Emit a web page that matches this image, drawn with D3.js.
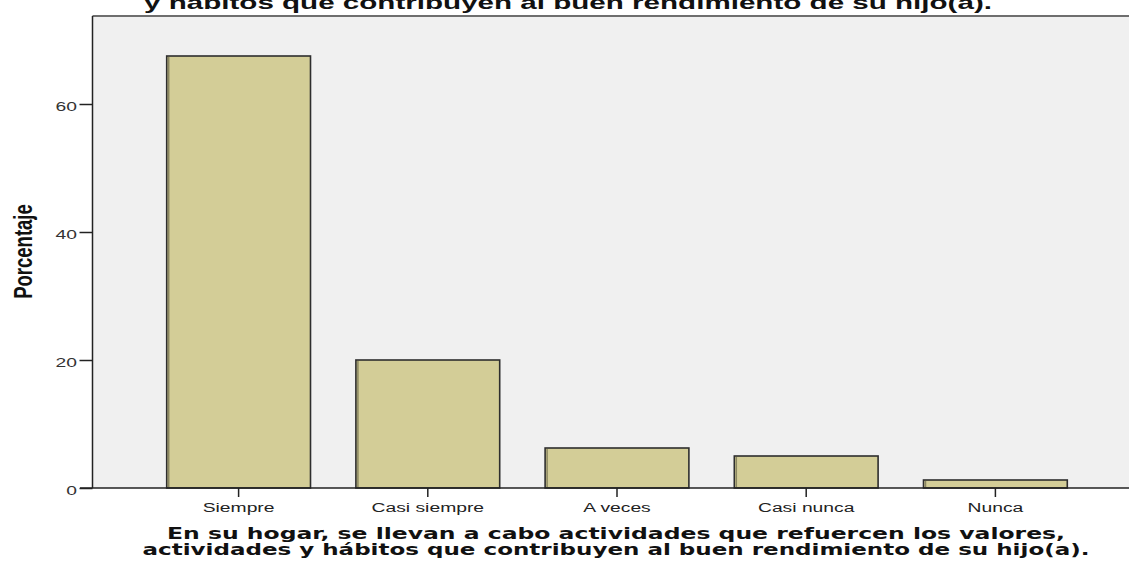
<!DOCTYPE html>
<html><head><meta charset="utf-8">
<script src="https://cdn.jsdelivr.net/npm/d3@7"></script>
<style>body{margin:0;background:#fff}svg{display:block}</style>
</head><body>
<svg id="c" width="1129" height="562"></svg>
<script>
const categories = ["Siempre","Casi siempre","A veces","Casi nunca","Nunca"];
const values = [67.5, 20.0, 6.25, 5.0, 1.25];
const yTicks = [0, 20, 40, 60];
const titleText = "y hábitos que contribuyen al buen rendimiento de su hijo(a).";
const xTitleLines = ["En su hogar, se llevan a cabo actividades que refuercen los valores,",
                     "actividades y hábitos que contribuyen al buen rendimiento de su hijo(a)."];
const yTitle = "Porcentaje";

(function(){
const svg = d3.select("#c");
const pL = 92.5, pT = 16, pB = 488, pR = 1135;
const SX = 1.43; // horizontal stretch of the original picture
const y = d3.scaleLinear().domain([0, 73.75]).range([pB, pT]);
const x = d3.scaleBand().domain(categories).range([144, 1090]).paddingInner(0.24).paddingOuter(0.12);

svg.append("rect").attr("x", pL).attr("y", pT).attr("width", pR-pL).attr("height", pB-pT).attr("fill", "#f0f0f0");
svg.append("line").attr("x1", pL).attr("x2", pR).attr("y1", pT).attr("y2", pT).attr("stroke", "#6e6e6e").attr("stroke-width", 1.8);

const bars = svg.append("g");
bars.selectAll("rect").data(values).join("rect")
  .attr("x", (d,i) => x(categories[i]))
  .attr("y", d => y(d))
  .attr("width", x.bandwidth())
  .attr("height", d => y(0) - y(d))
  .attr("fill", "#d3cd97").attr("stroke", "#2e2e2e").attr("stroke-width", 1.6);
bars.selectAll("line").data(values).join("line")
  .attr("x1", (d,i) => x(categories[i]) + 2).attr("x2", (d,i) => x(categories[i]) + 2)
  .attr("y1", d => y(d) + 1).attr("y2", y(0) - 1)
  .attr("stroke", "#8a8660").attr("stroke-width", 1.5);

const ya = svg.append("g").attr("transform", `translate(${pL},0)`)
  .call(d3.axisLeft(y).tickValues(yTicks).tickSize(13).tickPadding(3).tickFormat(d3.format("d")));
ya.select(".domain").remove();
ya.selectAll(".tick line").attr("stroke", "#222").attr("stroke-width", 1.5);
ya.selectAll(".tick text")
  .attr("x", 0).attr("dy", "0.45em")
  .attr("transform", `translate(-15.5,0) scale(${SX},1)`)
  .attr("font-family", "Liberation Sans, Arial, sans-serif").attr("font-size", 13.5).attr("fill", "#333");

svg.append("line").attr("x1", pL).attr("x2", pL).attr("y1", pT).attr("y2", pB).attr("stroke", "#222").attr("stroke-width", 1.5);

const xa = svg.append("g").attr("transform", `translate(0,${pB})`)
  .call(d3.axisBottom(x).tickSize(9).tickPadding(5));
xa.select(".domain").remove();
xa.selectAll(".tick line").attr("stroke", "#222").attr("stroke-width", 1.5);
xa.selectAll(".tick text")
  .attr("transform", `scale(${SX},1)`)
  .attr("font-family", "Liberation Sans, Arial, sans-serif").attr("font-size", 13.5).attr("fill", "#222");
svg.append("line").attr("x1", 80).attr("x2", pR).attr("y1", pB).attr("y2", pB).attr("stroke", "#222").attr("stroke-width", 1.5);

svg.append("text").attr("x", 568).attr("y", 8.5).attr("text-anchor", "middle")
  .attr("textLength", 848).attr("lengthAdjust", "spacingAndGlyphs")
  .attr("font-family", "Liberation Sans, Arial, sans-serif").attr("font-weight", "bold").attr("font-size", 19)
  .attr("fill", "#111").text(titleText);

const xtW = [898, 947];
svg.append("g").selectAll("text").data(xTitleLines).join("text")
  .attr("x", 616).attr("y", (d,i) => 538.5 + i*16.5).attr("text-anchor", "middle")
  .attr("textLength", (d,i) => xtW[i]).attr("lengthAdjust", "spacingAndGlyphs")
  .attr("font-family", "DejaVu Sans, Verdana, sans-serif").attr("font-weight", "bold").attr("font-size", 15)
  .attr("fill", "#111").text(d => d);

svg.append("text").attr("transform", `translate(32,251.5) scale(${SX},1) rotate(-90)`).attr("text-anchor", "middle")
  .attr("font-family", "Liberation Sans, Arial, sans-serif").attr("font-weight", "bold").attr("font-size", 18.5)
  .attr("fill", "#111").text(yTitle);
})();
</script>
</body></html>
